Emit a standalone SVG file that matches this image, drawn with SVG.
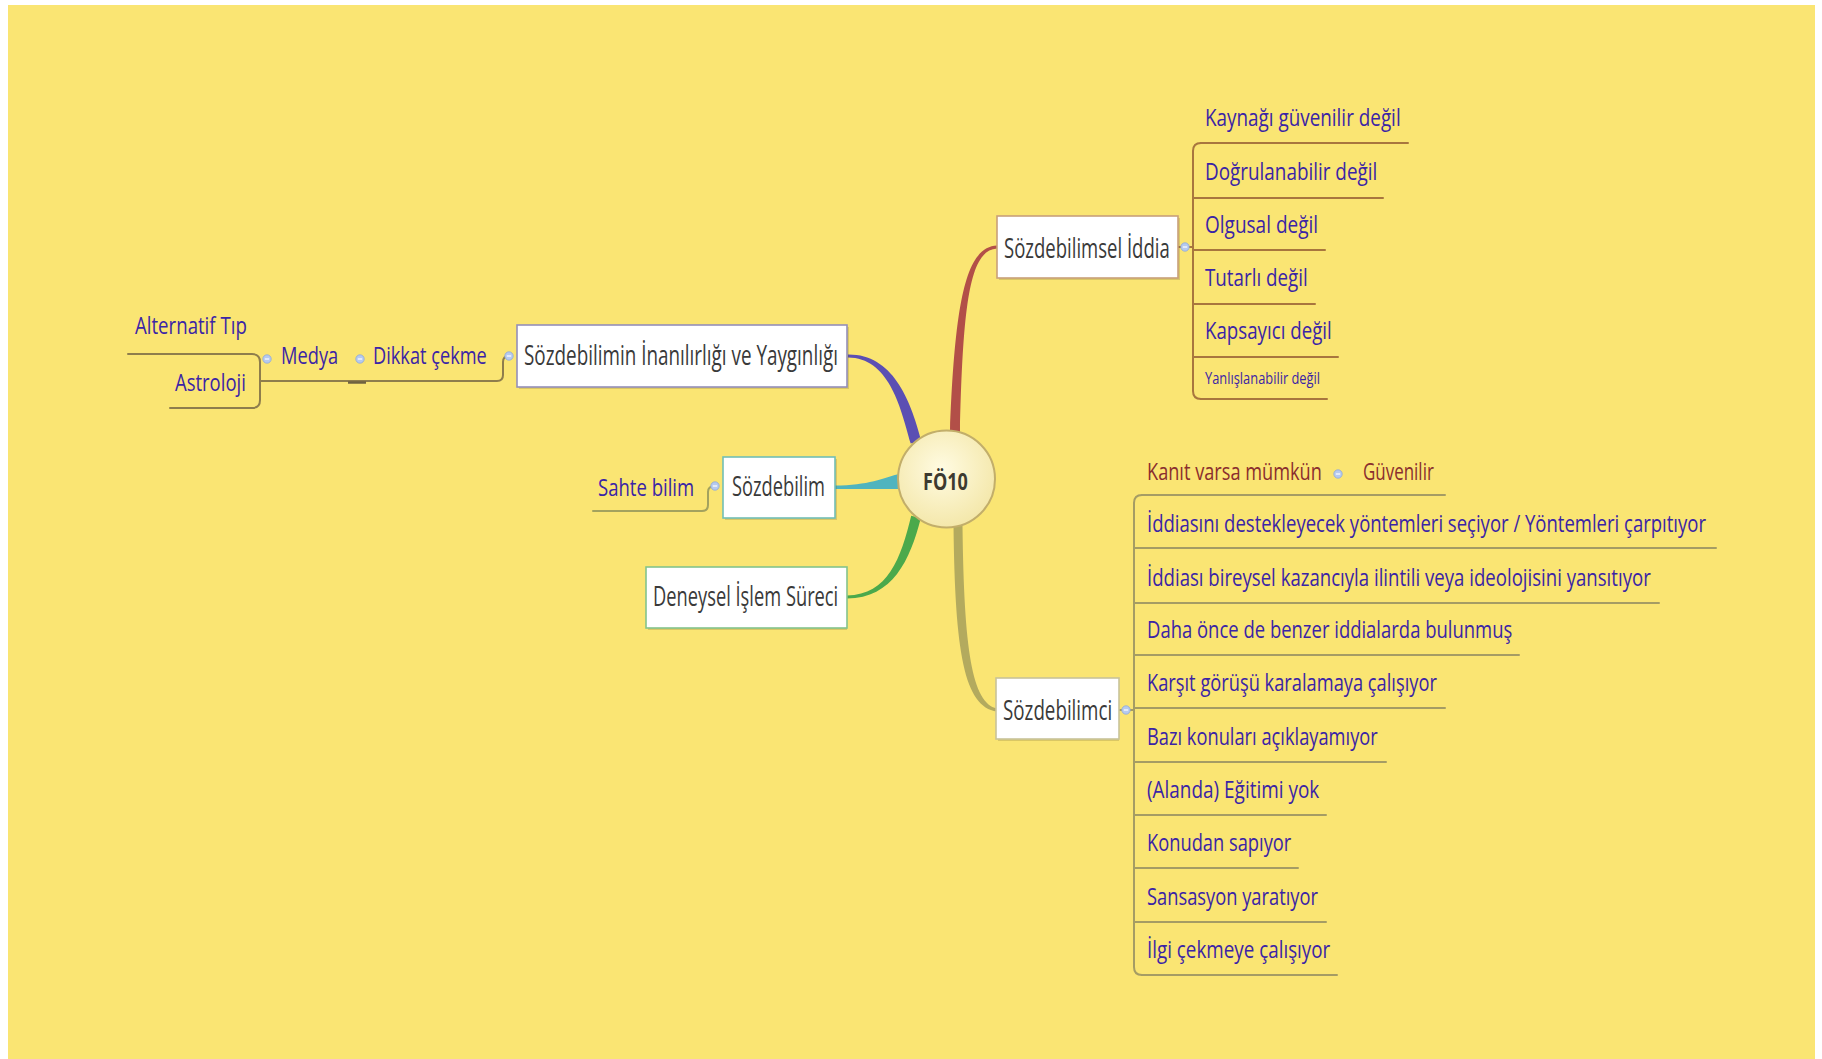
<svg xmlns="http://www.w3.org/2000/svg" width="1822" height="1059" viewBox="0 0 1822 1059">
  <defs>
    <style>
      .bt { font-family: "Open Sans", "Noto Sans", "DejaVu Sans", sans-serif; font-size: 27px; fill: #3a3a3a; }
      .ct { font-family: "Open Sans", "Noto Sans", "DejaVu Sans", sans-serif; font-size: 24px; fill: #3a24a6; }
      .sm { font-size: 17px; }
      .rt { fill: #8a2e2e; }
      .box { fill: #ffffff; stroke-width: 1.6; }
      .shadow { fill: #6b6030; opacity: 0.22; }
      .ln { fill: none; stroke-width: 2; stroke-linecap: round; stroke-linejoin: round; }
      .top { stroke: #a8763e; }
      .bot { stroke: #a59c64; }
      .lft { stroke: #8e7d4c; }
      .sah { stroke: #a3a25e; }
      .ico circle { fill: #b6caef; stroke: #8ea8d8; stroke-width: 0.8; }
      .ico line { stroke: #ffffff; stroke-width: 1.2; }
    </style>
    <radialGradient id="hub" cx="0.45" cy="0.4" r="0.65">
      <stop offset="0" stop-color="#fffbe2"/>
      <stop offset="1" stop-color="#f3e6a6"/>
    </radialGradient>
    <g id="minus" class="ico">
      <circle cx="0" cy="0" r="4.2"/>
      <line x1="-2.2" y1="0" x2="2.2" y2="0"/>
    </g>
  </defs>

  <!-- page -->
  <rect x="0" y="0" width="1822" height="1059" fill="#ffffff"/>
  <rect x="8" y="5" width="1807" height="1054" fill="#fae573"/>

  <!-- branches and bracket lines -->
  <g id="connectors">
    <!-- main tapered branches from the hub -->
    <path d="M 848 354.5 C 892 354 910 398 921.3 440.6 L 910.7 443.4 C 900 404 888 358 848 357.5 Z" fill="#5b4fb3"/>
    <path d="M 997 245.5 C 966 247 955 300 950 432 L 960 432 C 963 302 970 250 997 248.5 Z" fill="#b24f48"/>
    <path d="M 835 485.5 C 868 485.5 884 478 900 473.5 L 900 489 C 884 489 868 489 835 489 Z" fill="#50b4be"/>
    <path d="M 847 598.5 C 893 598 910 560 920.8 518.2 L 911.2 515.8 C 901 558 888 595 847 595.5 Z" fill="#4ba94b"/>
    <path d="M 953.5 526 C 955 652 964 707 997 711.5 L 997 708.5 C 972 703 964 650 962.5 526 Z" fill="#b3aa5e"/>

    <!-- left: Sözdebilimin İnanılırlığı ve Yaygınlığı → Dikkat çekme → Medya -->
    <path class="ln lft" d="M 509 356 Q 503 356 503 362 L 503 375 Q 503 381 497 381 L 260 381"/>
    <path class="ln lft" d="M 128 354 L 252 354 Q 260 354 260 362 L 260 400 Q 260 408 252 408 L 170 408"/>
    <line x1="348" y1="382.5" x2="366" y2="382.5" stroke="#6f6240" stroke-width="2.5"/>

    <!-- Sözdebilim → Sahte bilim -->
    <path class="ln sah" d="M 715 486 Q 708 486 708 492 L 708 505 Q 708 511 702 511 L 593 511"/>

    <!-- Sözdebilimsel İddia bracket -->
    <path class="ln top" d="M 1178 247 L 1193 247"/>
    <path class="ln top" d="M 1201 143 Q 1193 143 1193 151 L 1193 391 Q 1193 399 1201 399"/>
    <path class="ln top" d="M 1201 143 L 1408 143"/>
    <path class="ln top" d="M 1193 198 L 1383 198"/>
    <path class="ln top" d="M 1193 250 L 1325 250"/>
    <path class="ln top" d="M 1193 304 L 1315 304"/>
    <path class="ln top" d="M 1193 357 L 1338 357"/>
    <path class="ln top" d="M 1201 399 L 1327 399"/>

    <!-- Sözdebilimci bracket -->
    <path class="ln bot" d="M 1119 710 L 1134 710"/>
    <path class="ln bot" d="M 1142 495 Q 1134 495 1134 503 L 1134 967 Q 1134 975 1142 975"/>
    <path class="ln bot" d="M 1142 495 L 1445 495" stroke="#aaa27a"/>
    <path class="ln bot" d="M 1134 548 L 1716 548"/>
    <path class="ln bot" d="M 1134 603 L 1659 603"/>
    <path class="ln bot" d="M 1134 655 L 1519 655"/>
    <path class="ln bot" d="M 1134 708 L 1445 708"/>
    <path class="ln bot" d="M 1134 762 L 1386 762"/>
    <path class="ln bot" d="M 1134 815 L 1326 815"/>
    <path class="ln bot" d="M 1134 868 L 1298 868"/>
    <path class="ln bot" d="M 1134 922 L 1326 922"/>
    <path class="ln bot" d="M 1142 975 L 1337 975"/>
  </g>

  <!-- hub -->
  <g id="node-fo10">
    <circle cx="946.5" cy="479" r="48.5" fill="url(#hub)" stroke="#c2ae6a" stroke-width="2"/>
    <text transform="translate(923 490) scale(0.65 1)" font-family="Open Sans, Noto Sans, sans-serif" font-size="24" font-weight="bold" fill="#3d3a30" textLength="69" lengthAdjust="spacingAndGlyphs">FÖ10</text>
  </g>

  <!-- left branch (text is set in a narrow face: scaled 0.65 horizontally) -->
  <g id="node-inanilirlik">
    <rect class="shadow" x="519" y="327" width="330" height="62"/>
    <rect class="box" x="517" y="325" width="330" height="62" stroke="#948fba"/>
    <text class="bt" transform="translate(524 365) scale(0.65 1)" textLength="483" lengthAdjust="spacingAndGlyphs">Sözdebilimin İnanılırlığı ve Yaygınlığı</text>
    <use href="#minus" x="509" y="356"/>
  </g>
  <g id="node-dikkat">
    <text class="ct" transform="translate(373 364) scale(0.65 1)" textLength="175" lengthAdjust="spacingAndGlyphs">Dikkat çekme</text>
    <use href="#minus" x="360" y="359"/>
  </g>
  <g id="node-medya">
    <text class="ct" transform="translate(281 364) scale(0.65 1)" textLength="88" lengthAdjust="spacingAndGlyphs">Medya</text>
    <use href="#minus" x="267" y="359"/>
  </g>
  <g id="node-alternatif">
    <text class="ct" transform="translate(135 334) scale(0.65 1)" textLength="172" lengthAdjust="spacingAndGlyphs">Alternatif Tıp</text>
  </g>
  <g id="node-astroloji">
    <text class="ct" transform="translate(175 391) scale(0.65 1)" textLength="109" lengthAdjust="spacingAndGlyphs">Astroloji</text>
  </g>

  <!-- Sözdebilim -->
  <g id="node-sozdebilim">
    <rect class="shadow" x="725" y="459" width="112" height="61"/>
    <rect class="box" x="723" y="457" width="112" height="61" stroke="#72bfb6"/>
    <text class="bt" transform="translate(732 496) scale(0.65 1)" textLength="143" lengthAdjust="spacingAndGlyphs">Sözdebilim</text>
    <use href="#minus" x="715" y="486"/>
  </g>
  <g id="node-sahte">
    <text class="ct" transform="translate(598 496) scale(0.65 1)" textLength="148" lengthAdjust="spacingAndGlyphs">Sahte bilim</text>
  </g>

  <!-- Deneysel İşlem Süreci -->
  <g id="node-deneysel">
    <rect class="shadow" x="648" y="569" width="199" height="61"/>
    <rect class="box" x="646" y="567" width="201" height="61" stroke="#84c48c"/>
    <text class="bt" transform="translate(653 606) scale(0.65 1)" textLength="285" lengthAdjust="spacingAndGlyphs">Deneysel İşlem Süreci</text>
  </g>

  <!-- Sözdebilimsel İddia -->
  <g id="node-iddia">
    <rect class="shadow" x="999" y="218" width="181" height="62"/>
    <rect class="box" x="997" y="216" width="181" height="62" stroke="#c9a07a"/>
    <text class="bt" transform="translate(1004 258) scale(0.65 1)" textLength="255" lengthAdjust="spacingAndGlyphs">Sözdebilimsel İddia</text>
    <use href="#minus" x="1185" y="247"/>
  </g>
  <g id="node-kaynak"><text class="ct" transform="translate(1205 126) scale(0.65 1)" textLength="301" lengthAdjust="spacingAndGlyphs">Kaynağı güvenilir değil</text></g>
  <g id="node-dogrulanabilir"><text class="ct" transform="translate(1205 180) scale(0.65 1)" textLength="265" lengthAdjust="spacingAndGlyphs">Doğrulanabilir değil</text></g>
  <g id="node-olgusal"><text class="ct" transform="translate(1205 233) scale(0.65 1)" textLength="174" lengthAdjust="spacingAndGlyphs">Olgusal değil</text></g>
  <g id="node-tutarli"><text class="ct" transform="translate(1205 286) scale(0.65 1)" textLength="158" lengthAdjust="spacingAndGlyphs">Tutarlı değil</text></g>
  <g id="node-kapsayici"><text class="ct" transform="translate(1205 339) scale(0.65 1)" textLength="195" lengthAdjust="spacingAndGlyphs">Kapsayıcı değil</text></g>
  <g id="node-yanlislanabilir"><text class="ct sm" transform="translate(1205 384) scale(0.65 1)" textLength="177" lengthAdjust="spacingAndGlyphs">Yanlışlanabilir değil</text></g>

  <!-- Sözdebilimci -->
  <g id="node-sozdebilimci">
    <rect class="shadow" x="998" y="680" width="121" height="61"/>
    <rect class="box" x="996" y="678" width="123" height="61" stroke="#c9c39a"/>
    <text class="bt" transform="translate(1003 720) scale(0.65 1)" textLength="168" lengthAdjust="spacingAndGlyphs">Sözdebilimci</text>
    <use href="#minus" x="1126" y="710"/>
  </g>
  <g id="node-kanit">
    <text class="ct rt" transform="translate(1147 480) scale(0.65 1)" textLength="269" lengthAdjust="spacingAndGlyphs">Kanıt varsa mümkün</text>
    <use href="#minus" x="1338" y="474"/>
  </g>
  <g id="node-guvenilir"><text class="ct rt" transform="translate(1363 480) scale(0.65 1)" textLength="109" lengthAdjust="spacingAndGlyphs">Güvenilir</text></g>
  <g id="node-yontem"><text class="ct" transform="translate(1147 532) scale(0.65 1)" textLength="860" lengthAdjust="spacingAndGlyphs">İddiasını destekleyecek yöntemleri seçiyor / Yöntemleri çarpıtıyor</text></g>
  <g id="node-kazanc"><text class="ct" transform="translate(1147 586) scale(0.65 1)" textLength="775" lengthAdjust="spacingAndGlyphs">İddiası bireysel kazancıyla ilintili veya ideolojisini yansıtıyor</text></g>
  <g id="node-daha-once"><text class="ct" transform="translate(1147 638) scale(0.65 1)" textLength="562" lengthAdjust="spacingAndGlyphs">Daha önce de benzer iddialarda bulunmuş</text></g>
  <g id="node-karsit"><text class="ct" transform="translate(1147 691) scale(0.65 1)" textLength="446" lengthAdjust="spacingAndGlyphs">Karşıt görüşü karalamaya çalışıyor</text></g>
  <g id="node-bazi"><text class="ct" transform="translate(1147 745) scale(0.65 1)" textLength="355" lengthAdjust="spacingAndGlyphs">Bazı konuları açıklayamıyor</text></g>
  <g id="node-egitim"><text class="ct" transform="translate(1147 798) scale(0.65 1)" textLength="265" lengthAdjust="spacingAndGlyphs">(Alanda) Eğitimi yok</text></g>
  <g id="node-konudan"><text class="ct" transform="translate(1147 851) scale(0.65 1)" textLength="222" lengthAdjust="spacingAndGlyphs">Konudan sapıyor</text></g>
  <g id="node-sansasyon"><text class="ct" transform="translate(1147 905) scale(0.65 1)" textLength="263" lengthAdjust="spacingAndGlyphs">Sansasyon yaratıyor</text></g>
  <g id="node-ilgi"><text class="ct" transform="translate(1147 958) scale(0.65 1)" textLength="282" lengthAdjust="spacingAndGlyphs">İlgi çekmeye çalışıyor</text></g>
</svg>
